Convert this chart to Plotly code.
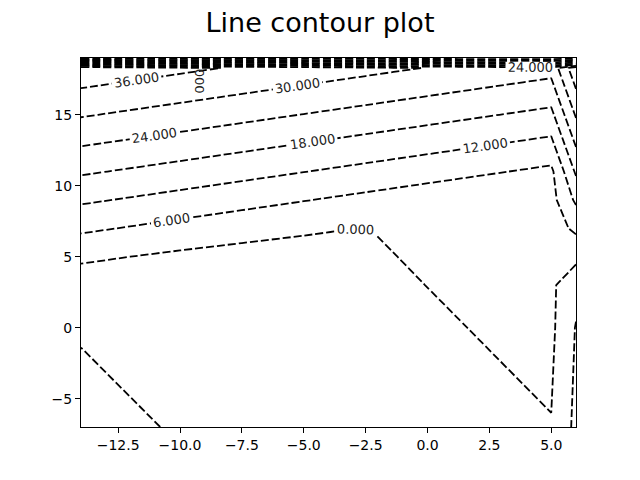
import plotly.graph_objects as go

# grid nodes
x_nodes = [-14, -10, -5, -2.5, 5, 6]
y_nodes = [-7, 0, 3, 5, 7, 9, 11, 13, 15, 17, 18.3, 19]

# z values, one row per y node
z_rows = [
    [-11.6, -4.6, -3.5, -2.85, -0.2, -7.4],
    [-4.6, -3.5, -2.6, -1.45, 1.2, -6.33],
    [-3.5, -2.5, -1.8, -0.47, 1.0, -4.0],
    [1.15, -1.16, -1.17, -0.6, 2.9, 1.5],
    [7.07, 4.11, 0.41, -0.065, 3.2, 7.21],
    [12.93, 9.97, 6.27, 4.42, 4.0, 13.07],
    [18.79, 15.83, 12.13, 10.28, 4.73, 18.93],
    [24.65, 21.69, 17.99, 16.14, 10.59, 24.79],
    [30.51, 27.55, 23.85, 22.0, 16.45, 30.65],
    [36.37, 33.41, 29.71, 27.86, 22.31, 36.51],
    [40.18, 37.22, 33.52, 31.67, 26.12, 40.32],
    [-10, -10, -10, -10, -10, -10],
]

level_start, level_end, level_step = -6, 42, 6

x_tickvals = [-12.5, -10, -7.5, -5, -2.5, 0, 2.5, 5]
x_ticktext = ["\u221212.5", "\u221210.0", "\u22127.5", "\u22125.0", "\u22122.5", "0.0", "2.5", "5.0"]
y_tickvals = [-5, 0, 5, 10, 15]
y_ticktext = ["\u22125", "0", "5", "10", "15"]

# stray rotated contour label visible near the top band
stray_label = dict(text="000", x=-9.23, y=17.4)

fig = go.Figure(
    go.Contour(
        x=x_nodes,
        y=y_nodes,
        z=z_rows,
        showscale=False,
        contours=dict(
            coloring="none",
            start=level_start,
            end=level_end,
            size=level_step,
            showlabels=True,
            labelformat=".3f",
            labelfont=dict(family="DejaVu Sans", size=13, color="#222222"),
        ),
        line=dict(color="black", width=1.8, dash="8px,3px", smoothing=0),
        hoverinfo="skip",
    )
)

fig.add_annotation(
    x=stray_label["x"],
    y=stray_label["y"],
    text=stray_label["text"],
    textangle=90,
    showarrow=False,
    font=dict(family="DejaVu Sans", size=13, color="#222222"),
)

axis_common = dict(
    showline=True,
    mirror=True,
    linecolor="black",
    linewidth=1,
    ticks="outside",
    ticklen=5,
    tickwidth=1,
    tickcolor="black",
    showgrid=False,
    zeroline=False,
    tickfont=dict(family="DejaVu Sans", size=14, color="black"),
)

fig.update_layout(
    width=640,
    height=480,
    margin=dict(l=81, r=64, t=58, b=53),
    paper_bgcolor="white",
    plot_bgcolor="white",
    title=dict(
        text="Line contour plot",
        x=0.5,
        xref="container",
        xanchor="center",
        y=1 - 23 / 480,
        yref="container",
        yanchor="middle",
        font=dict(family="DejaVu Sans", size=27, color="black"),
    ),
    xaxis=dict(range=[-14, 6], tickvals=x_tickvals, ticktext=x_ticktext, **axis_common),
    yaxis=dict(range=[-7, 19], tickvals=y_tickvals, ticktext=y_ticktext, **axis_common),
)

fig.write_html(
    "out.html",
    config={"displayModeBar": False},
    post_script="document.body.style.margin='0';",
)
